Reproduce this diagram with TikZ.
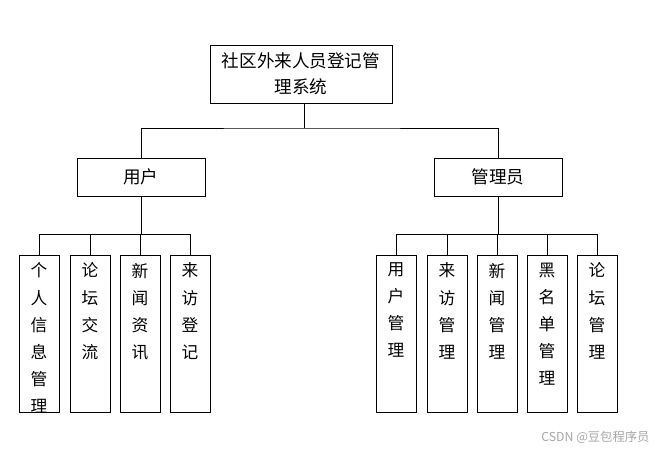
\documentclass[tikz,border=0pt]{standalone}
\usepackage{fontspec}
\setmainfont{Noto Sans CJK SC}
\usetikzlibrary{positioning}
\newcommand{\vtext}[1]{\parbox[t][2.85cm][t]{0.5cm}{\centering\fontsize{9.5}{15.4}\selectfont #1}}
\begin{document}
\begin{tikzpicture}[x=0.02cm,y=-0.02cm,thick,
  box/.style={draw,line width=0.5pt,font=\fontsize{10}{15}\selectfont,align=center,inner sep=0pt},
  leaf/.style={draw,line width=0.5pt,minimum width=0.8cm,minimum height=3.06cm,anchor=north,inner sep=0pt,inner ysep=0.15cm},
  link/.style={line width=0.5pt}]
  \useasboundingbox (0,0) rectangle (664,451);
  % top level
  \node[box,minimum width=3.64cm,minimum height=1.16cm] (sys) at (301,74) {社区外来人员登记管\\理系统};
  \node[box,minimum width=2.56cm,minimum height=0.76cm] (user) at (141,177) {用户};
  \node[box,minimum width=2.56cm,minimum height=0.76cm] (admin) at (498,177) {管理员};
  % user functions
  \node[leaf] (u1) at (39,255) {\vtext{个\\人\\信\\息\\管\\理}};
  \node[leaf] (u2) at (90,255) {\vtext{论\\坛\\交\\流}};
  \node[leaf] (u3) at (140,255) {\vtext{新\\闻\\资\\讯}};
  \node[leaf] (u4) at (190,255) {\vtext{来\\访\\登\\记}};
  % admin functions
  \node[leaf] (a1) at (396,255) {\vtext{用\\户\\管\\理}};
  \node[leaf] (a2) at (447,255) {\vtext{来\\访\\管\\理}};
  \node[leaf] (a3) at (497,255) {\vtext{新\\闻\\管\\理}};
  \node[leaf] (a4) at (547,255) {\vtext{黑\\名\\单\\管\\理}};
  \node[leaf] (a5) at (597,255) {\vtext{论\\坛\\管\\理}};
  % connectors
  \coordinate (top) at (304,128);
  \draw[link] (sys.south -| top) -- (top);
  \draw[link] (user.north) |- (top) -| (admin.north);
  \coordinate (ubus) at (141,234);
  \draw[link] (user.south) -- (ubus);
  \foreach \n in {u1,u2,u3,u4}
    \draw[link] (ubus) -| (\n.north);
  \coordinate (abus) at (498,234);
  \draw[link] (admin.south) -- (abus);
  \foreach \n in {a1,a2,a3,a4,a5}
    \draw[link] (abus) -| (\n.north);
  \node[text=gray!70,font=\fontsize{7}{8}\selectfont,anchor=east] (mark) at (656,437) {CSDN @豆包程序员};
\end{tikzpicture}
\end{document}
